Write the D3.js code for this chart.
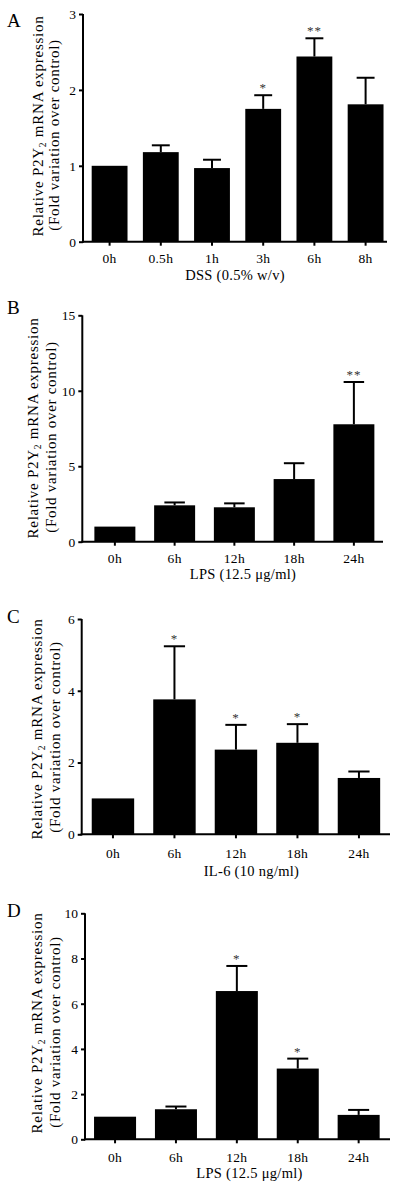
<!DOCTYPE html>
<html>
<head>
<meta charset="utf-8">
<script src="https://cdn.jsdelivr.net/npm/d3@7"></script>
<style>
  html, body { margin: 0; padding: 0; background: #fff; }
  svg { display: block; }
  text { font-family: "Liberation Serif", "Times New Roman", serif; fill: #000; }
</style>
</head>
<body>
<svg id="chart" width="400" height="1186"></svg>
<script>
// ---------- DATA ----------
const catsA = ["0h", "0.5h", "1h", "3h", "6h", "8h"];
const meanA = [1.0, 1.18, 0.97, 1.75, 2.44, 1.81];
const semA  = [0, 0.09, 0.11, 0.18, 0.24, 0.35];
const sigA  = ["", "", "", "*", "**", ""];
const ticksA = [0, 1, 2, 3];
const titleA = "DSS (0.5% w/v)";

const catsB = ["0h", "6h", "12h", "18h", "24h"];
const meanB = [1.0, 2.41, 2.28, 4.15, 7.78];
const semB  = [0, 0.19, 0.26, 1.05, 2.8];
const sigB  = ["", "", "", "", "**"];
const ticksB = [0, 5, 10, 15];
const titleB = "LPS (12.5 μg/ml)";

const catsC = ["0h", "6h", "12h", "18h", "24h"];
const meanC = [1.0, 3.76, 2.36, 2.55, 1.57];
const semC  = [0, 1.48, 0.69, 0.52, 0.18];
const sigC  = ["", "*", "*", "*", ""];
const ticksC = [0, 2, 4, 6];
const titleC = "IL-6 (10 ng/ml)";

const catsD = ["0h", "6h", "12h", "18h", "24h"];
const meanD = [1.0, 1.33, 6.56, 3.13, 1.08];
const semD  = [0, 0.12, 1.11, 0.44, 0.22];
const sigD  = ["", "", "*", "*", ""];
const ticksD = [0, 2, 4, 6, 8, 10];
const titleD = "LPS (12.5 μg/ml)";

const yLine1 = ["Relative P2Y", "2", " mRNA expression"];
const yLine2 = "(Fold variation over control)";

// ---------- LAYOUT ----------
const panels = [
  { letter: "A", cats: catsA, mean: meanA, sem: semA, sig: sigA, ticks: ticksA, title: titleA,
    L: { ax: 83, yTop: 14, yBase: 241.7, b0: 84, b1: 391.2, pad: 0.3, axEnd: 387, letterY: 27,
         tickY: 263, titleY: 280, titleX: 235, t1x: 43, t2x: 59, t1c: 126, t2c: 135 } },
  { letter: "B", cats: catsB, mean: meanB, sem: semB, sig: sigB, ticks: ticksB, title: titleB,
    L: { ax: 82.3, yTop: 315.3, yBase: 541.7, b0: 85, b1: 383.75, pad: 0.314, axEnd: 383, letterY: 313.5,
         tickY: 563, titleY: 579, titleX: 243, t1x: 38, t2x: 56, t1c: 428, t2c: 437 } },
  { letter: "C", cats: catsC, mean: meanC, sem: semC, sig: sigC, ticks: ticksC, title: titleC,
    L: { ax: 81.7, yTop: 619, yBase: 834.3, b0: 82.2, b1: 389.7, pad: 0.31, axEnd: 390, letterY: 623,
         tickY: 858, titleY: 876, titleX: 251.5, t1x: 42, t2x: 60, t1c: 729, t2c: 737 } },
  { letter: "D", cats: catsD, mean: meanD, sem: semD, sig: sigD, ticks: ticksD, title: titleD,
    L: { ax: 85, yTop: 913.3, yBase: 1139.3, b0: 84.6, b1: 389.1, pad: 0.31, axEnd: 390, letterY: 916.5,
         tickY: 1162, titleY: 1178, titleX: 249.5, t1x: 42, t2x: 60, t1c: 1023, t2c: 1032 } }
];

const svg = d3.select("#chart");
const serif = '"Liberation Serif", "Times New Roman", serif';

panels.forEach(p => {
  const L = p.L;
  const g = svg.append("g");
  const x = d3.scaleBand().domain(p.cats).range([L.b0, L.b1])
    .paddingInner(L.pad).paddingOuter(L.pad / 2);
  const y = d3.scaleLinear().domain([0, d3.max(p.ticks)]).range([L.yBase, L.yTop]);

  // bars
  g.selectAll("rect.bar").data(p.cats).join("rect")
    .attr("class", "bar")
    .attr("x", d => x(d))
    .attr("width", x.bandwidth())
    .attr("y", (d, i) => y(p.mean[i]))
    .attr("height", (d, i) => y(0) - y(p.mean[i]))
    .attr("fill", "#000");

  // error bars (upper only)
  const capW = x.bandwidth() * 0.5;
  p.cats.forEach((c, i) => {
    if (!p.sem[i]) return;
    const cx = x(c) + x.bandwidth() / 2;
    const top = y(p.mean[i] + p.sem[i]);
    g.append("line").attr("x1", cx).attr("x2", cx)
      .attr("y1", y(p.mean[i])).attr("y2", top)
      .attr("stroke", "#000").attr("stroke-width", 2);
    g.append("line").attr("x1", cx - capW / 2).attr("x2", cx + capW / 2)
      .attr("y1", top).attr("y2", top)
      .attr("stroke", "#000").attr("stroke-width", 2);
    if (p.sig[i]) {
      g.append("text").attr("x", cx).attr("y", top - 3)
        .attr("text-anchor", "middle").attr("font-size", 13)
        .style("fill", "#333").attr("letter-spacing", 1)
        .text(p.sig[i]);
    }
  });

  // y axis
  const yAxis = d3.axisLeft(y).tickValues(p.ticks).tickFormat(d3.format("d"))
    .tickSizeInner(4).tickSizeOuter(0).tickPadding(3);
  const ya = g.append("g").attr("transform", `translate(${L.ax},0)`).call(yAxis);
  ya.select(".domain").attr("stroke-width", 2).attr("d", `M0,${L.yBase + 1}V${L.yTop}`);
  ya.selectAll(".tick line").attr("stroke-width", 2);
  ya.selectAll(".tick text").attr("font-size", 13.5).style("font-family", serif);

  // x axis
  const xAxis = d3.axisBottom(x).tickSizeInner(4).tickSizeOuter(0).tickPadding(0);
  const xa = g.append("g").attr("transform", `translate(0,${L.yBase})`).call(xAxis);
  xa.select(".domain").attr("stroke-width", 2).attr("d", `M${L.ax - 1},0H${L.axEnd}`);
  xa.selectAll(".tick line").attr("stroke-width", 2);
  xa.selectAll(".tick text").attr("font-size", 13.5).attr("dy", null)
    .attr("y", L.tickY - L.yBase).attr("letter-spacing", 0.3)
    .style("font-family", serif);

  // x title
  g.append("text").attr("x", L.titleX).attr("y", L.titleY)
    .attr("text-anchor", "middle").attr("font-size", 14.5).attr("letter-spacing", 0.3)
    .text(p.title);

  // y title (two lines)
  const t1 = g.append("text")
    .attr("transform", `translate(${L.t1x},${L.t1c}) rotate(-90)`)
    .attr("text-anchor", "middle").attr("font-size", 15).attr("letter-spacing", 0.75);
  t1.append("tspan").text(yLine1[0]);
  t1.append("tspan").attr("font-size", 9.5).attr("dy", 3).text(yLine1[1]);
  t1.append("tspan").attr("dy", -3).text(yLine1[2]);

  g.append("text")
    .attr("transform", `translate(${L.t2x},${L.t2c}) rotate(-90)`)
    .attr("text-anchor", "middle").attr("font-size", 15).attr("letter-spacing", 0.7)
    .text(yLine2);

  // panel letter
  g.append("text").attr("x", 7).attr("y", L.letterY)
    .attr("font-size", 19).text(p.letter);
});
</script>
</body>
</html>
